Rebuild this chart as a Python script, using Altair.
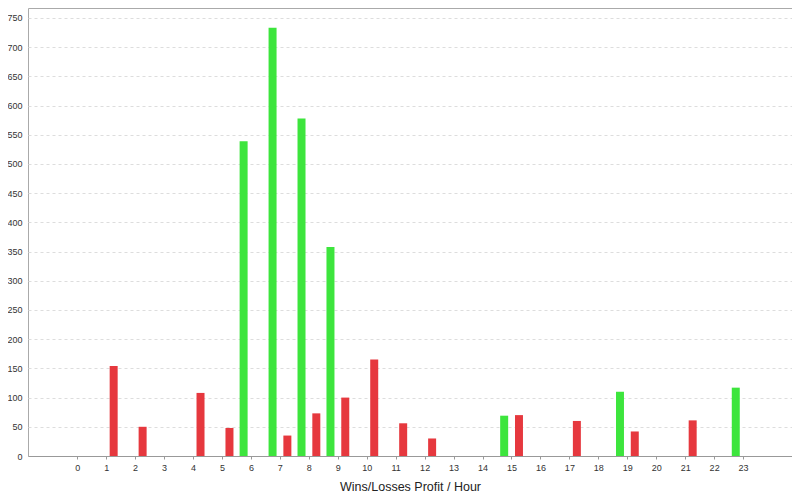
import altair as alt
import pandas as pd

hours = list(range(24))
win_hours = [6, 7, 8, 9, 15, 19, 23]
win_values = [539, 733, 578, 358, 69, 110, 117]
loss_hours = [1, 2, 4, 5, 7, 8, 9, 10, 11, 12, 15, 17, 19, 21]
loss_values = [154, 50, 108, 48, 35, 73, 100, 165, 56, 30, 70, 60, 42, 61]
kinds = ["Wins", "Losses"]
colors = ["#3de53d", "#e6383e"]
y_ticks = list(range(0, 751, 50))

rows = [{"hour": h, "kind": "Wins", "value": v} for h, v in zip(win_hours, win_values)]
rows += [{"hour": h, "kind": "Losses", "value": v} for h, v in zip(loss_hours, loss_values)]
df = pd.DataFrame(rows)

x_enc = alt.X("hour:Q", scale=alt.Scale(domain=[-1.70, 24.69], nice=False, zero=False, padding=0),
              axis=alt.Axis(title="Wins/Losses Profit / Hour", values=hours, format="d",
                            labelAngle=0, ticks=True, tickSize=3, tickColor="#999", grid=False,
                            domain=True, domainColor="#999", labelFontSize=9, labelColor="#333",
                            labelPadding=4, titleFontSize=12.5, titleFont="Liberation Sans",
                            titleFontWeight="normal", titleColor="#222", titlePadding=8,
                            labelFont="Liberation Sans"))
y_enc = alt.Y("value:Q", scale=alt.Scale(domain=[0, 767], nice=False, padding=0),
              axis=alt.Axis(title=None, values=y_ticks, ticks=False, domain=False,
                            gridDash=[3, 3], gridColor="#dddddd", labelFontSize=9,
                            labelColor="#333", labelPadding=6, labelFont="Liberation Sans"))
c_enc = alt.Color("kind:N", scale=alt.Scale(domain=kinds, range=colors), legend=None)

base = alt.Chart(df)
wins = base.transform_filter(alt.datum.kind == "Wins").mark_bar(size=8, xOffset=-7.3).encode(
    x=x_enc, y=y_enc, color=c_enc)
losses = base.transform_filter(alt.datum.kind == "Losses").mark_bar(size=8, xOffset=7.5).encode(
    x=x_enc, y=y_enc, color=c_enc)

chart = alt.layer(wins, losses).properties(
    width=764, height=448,
    autosize=alt.AutoSizeParams(type="none"),
    padding={"left": 20, "top": 0, "right": 0, "bottom": 40},
).configure_view(stroke="#aaaaaa", strokeWidth=1)

chart.save("out.html", embed_options={"renderer": "svg", "actions": False})
